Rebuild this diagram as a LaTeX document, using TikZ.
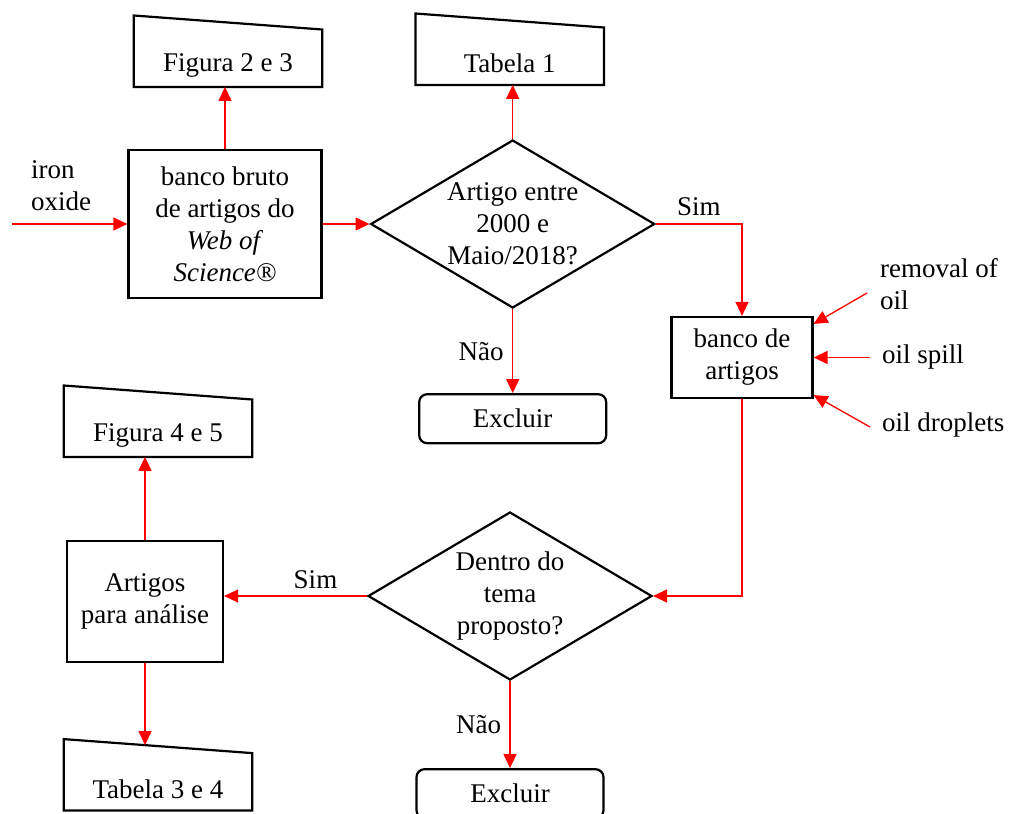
\documentclass[tikz,border=0pt]{standalone}
\usepackage{fontspec}
\setmainfont{Liberation Serif}
\usetikzlibrary{arrows.meta,shapes.geometric}
\usetikzlibrary{positioning}
\tikzset{
    box/.style={
           rectangle,
           draw=black, line width=2.2pt,
           align=center,
           },
}
\tikzset{
    decision/.style={
           diamond, aspect=1.7,
           draw=black, line width=2.2pt,
           inner sep=0pt, align=center,
           minimum width=284pt, minimum height=168pt,
           },
}
\tikzset{
    excl/.style={
           rectangle, rounded corners=8pt,
           draw=black, line width=2.2pt,
           minimum width=187pt, minimum height=49pt,
           },
}
\tikzset{
    manual/.style={
           minimum width=188pt, minimum height=43pt,
           inner sep=0pt,
           },
}
\tikzset{
    flow/.style={
           draw=red, line width=1.3pt,
           -{Triangle[length=14pt,width=13pt]},
           },
}
\tikzset{
    lbl/.style={
           inner sep=0pt,
           align=left,
           },
}
\newcommand{\manualtop}[1]{%
  \draw[line width=2.2pt] (#1.south west) -- (#1.south east)
    -- ([yshift=14pt]#1.north east) -- ([yshift=28pt]#1.north west) -- cycle;}

\begin{document}
\begin{tikzpicture}[x=1pt, y=1pt, font=\fontsize{27}{32}\selectfont]
\useasboundingbox (0,0) rectangle (1010,-814);
\node[box, minimum width=193pt, minimum height=148pt](bruto) at (225,-224)
  {banco bruto\\de artigos do\\\textit{Web of}\\\textit{Science®}};
\node[decision, right=47pt of bruto](dec1){Artigo entre\\2000 e\\Maio/2018?};
\node[manual, above=62pt of bruto, xshift=3pt](fig23){Figura 2 e 3};
\manualtop{fig23}
\node[manual, above=54pt of dec1, xshift=-3pt](tab1){Tabela 1};
\manualtop{tab1}
\node[excl, below=84pt of dec1](exc1){Excluir};
\node[box, minimum width=141pt, minimum height=81pt](banco) at (742,-357.5){banco de\\artigos};
\node[decision](dec2) at (510,-596){Dentro do\\tema\\proposto?};
\node[excl, below=87pt of dec2](exc2){Excluir};
\node[box, minimum width=156pt, minimum height=121pt](artigos) at (145,-601.5){Artigos\\para análise};
\node[manual, above=83pt of artigos, xshift=13pt](fig45){Figura 4 e 5};
\manualtop{fig45}
\node[manual, below=104pt of artigos, xshift=13pt](tab34){Tabela 3 e 4};
\manualtop{tab34}

% search terms
\node[lbl](iron) at (61,-186){iron\\oxide};
\node[lbl, anchor=west](rem) at (880,-284){removal of\\oil};
\node[lbl, anchor=west](spill) at (882,-357){oil spill};
\node[lbl, anchor=west](drop) at (882,-425){oil droplets};
\coordinate (ironin) at (12,-224);
\coordinate (remin) at (867,-293);
\coordinate (spillin) at (870,-357.5);
\coordinate (dropin) at (870,-427);

% connectors
\draw[flow] (ironin) -- (bruto.west);
\draw[flow] (bruto.east) -- (dec1.west);
\draw[flow] (bruto.north) -- (bruto.north |- fig23.south);
\draw[flow] (dec1.north) -- (dec1.north |- tab1.south);
\draw[flow] (dec1.east) -| node[pos=0.25, above=4pt]{Sim} (banco.north);
\draw[flow] (dec1.south) -- node[left=5pt]{Não} (exc1.north);
\draw[flow] (remin) -- ([yshift=-8pt]banco.north east);
\draw[flow] (spillin) -- (banco.east);
\draw[flow] (dropin) -- ([yshift=4pt]banco.south east);
\draw[flow] (banco.south) |- (dec2.east);
\draw[flow] (dec2.west) -- node[pos=0.36, above=3pt]{Sim} (dec2.west -| artigos.east);
\draw[flow] (dec2.south) -- node[left=5pt]{Não} (exc2.north);
\draw[flow] (artigos.north) -- (artigos.north |- fig45.south);
\draw[flow] (artigos.south) -- ([yshift=22pt]artigos.south |- tab34.north);
\end{tikzpicture}
\end{document}
